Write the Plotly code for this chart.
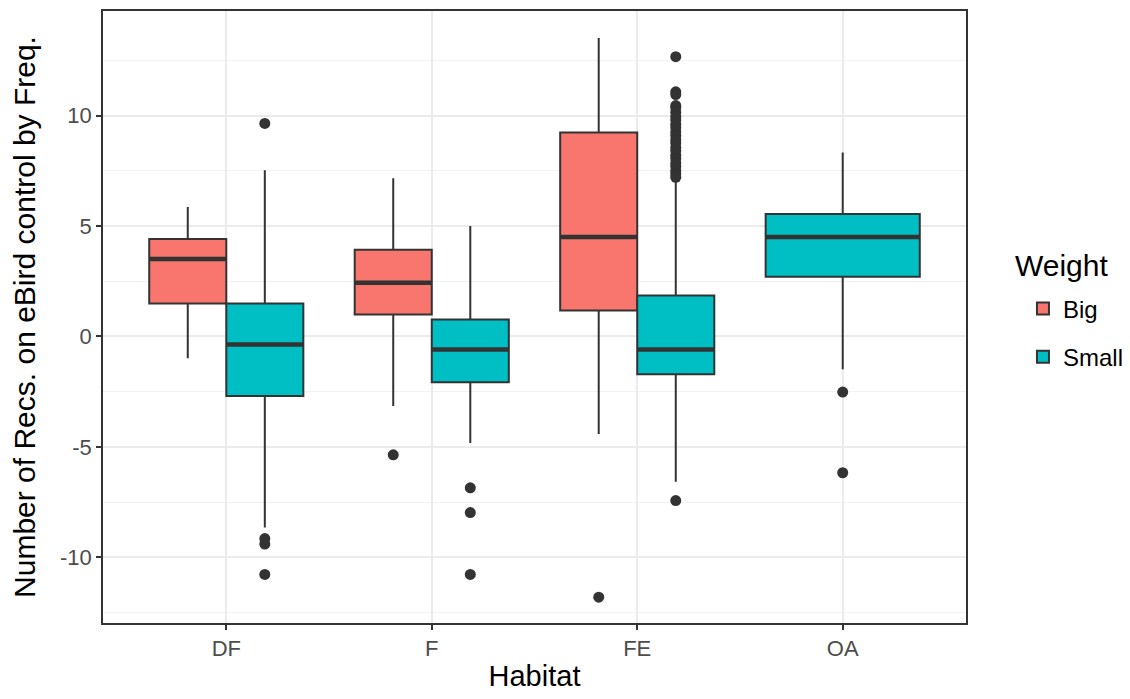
import plotly.graph_objects as go

# ---- data ----
habitats = ["DF", "F", "FE", "OA"]

big_habitats = ["DF", "F", "FE"]
big_lower = [-0.99, -3.15, -4.41]
big_q1 = [1.49, 0.99, 1.17]
big_median = [3.51, 2.43, 4.50]
big_q3 = [4.41, 3.92, 9.23]
big_upper = [5.86, 7.16, 13.51]
big_outliers = {"DF": [], "F": [-5.36], "FE": [-11.8]}

small_habitats = ["DF", "F", "FE", "OA"]
small_lower = [-8.65, -4.82, -6.58, -1.49]
small_q1 = [-2.70, -2.07, -1.71, 2.70]
small_median = [-0.36, -0.59, -0.59, 4.50]
small_q3 = [1.49, 0.77, 1.85, 5.54]
small_upper = [7.52, 5.00, 7.07, 8.33]
small_outliers = {
    "DF": [9.64, -9.15, -9.40, -10.77],
    "F": [-6.85, -7.97, -10.77],
    "FE": [-7.43, 12.66, 11.07, 10.95, 10.45, 10.35, 10.15, 9.95, 9.8, 9.6,
           9.45, 9.25, 9.1, 8.9, 8.75, 8.55, 8.4, 8.2, 8.05, 7.85, 7.7,
           7.5, 7.35, 7.2],
    "OA": [-2.52, -6.17],
}

legend_title = "Weight"
colors = {"Big": "#F8766D", "Small": "#00BFC4"}
dark = "#333333"

fig = go.Figure()

dodge = 0.1875
pair_width = 0.375


def pos(h, offset):
    return habitats.index(h) + 1 + offset


def n_groups(h):
    return (h in big_habitats) + (h in small_habitats)


def add_group(name, hs, lo, q1, med, q3, up, outl, offset_sign):
    xs, widths = [], []
    for h in hs:
        if n_groups(h) == 2:
            xs.append(pos(h, offset_sign * dodge)); widths.append(pair_width)
        else:
            xs.append(pos(h, 0)); widths.append(2 * pair_width)
    for w in sorted(set(widths)):
        idx = [i for i, ww in enumerate(widths) if ww == w]
        first = w == pair_width
        fig.add_trace(go.Box(
            x=[xs[i] for i in idx],
            lowerfence=[lo[i] for i in idx],
            q1=[q1[i] for i in idx],
            median=[med[i] for i in idx],
            q3=[q3[i] for i in idx],
            upperfence=[up[i] for i in idx],
            width=w,
            name=name,
            legendgroup=name,
            showlegend=first,
            fillcolor=colors[name],
            line=dict(color=dark, width=2),
            whiskerwidth=0,
            boxpoints=False,
            hoverinfo="skip",
        ))
        # thicker median line like ggplot
        mx, my = [], []
        for i in idx:
            mx += [xs[i] - w / 2, xs[i] + w / 2, None]
            my += [med[i], med[i], None]
        fig.add_trace(go.Scatter(
            x=mx, y=my, mode="lines", line=dict(color=dark, width=4.5),
            showlegend=False, hoverinfo="skip"))
    ox, oy = [], []
    for i, h in enumerate(hs):
        for v in outl.get(h, []):
            ox.append(xs[i]); oy.append(v)
    fig.add_trace(go.Scatter(
        x=ox, y=oy, mode="markers",
        marker=dict(color=dark, size=11, line=dict(width=0)),
        showlegend=False, hoverinfo="skip"))


add_group("Big", big_habitats, big_lower, big_q1, big_median, big_q3, big_upper,
          big_outliers, -1)
add_group("Small", small_habitats, small_lower, small_q1, small_median, small_q3,
          small_upper, small_outliers, +1)

fig.add_annotation(
    text=legend_title, xref="paper", yref="paper", x=1.0545, y=0.584,
    xanchor="left", yanchor="middle", showarrow=False,
    font=dict(size=30, color="black"),
)

fig.update_layout(
    width=1130, height=699,
    margin=dict(l=95, r=172, t=1, b=84),
    paper_bgcolor="white",
    plot_bgcolor="white",
    boxmode="overlay",
    font=dict(family="Liberation Sans, Arial, sans-serif", color="black"),
    legend=dict(
        x=1.066, xanchor="left", y=0.474, yanchor="middle",
        font=dict(size=24, color="black"),
        tracegroupgap=14,
        itemsizing="constant",
    ),
    xaxis=dict(
        range=[0.4, 4.6],
        tickmode="array",
        tickvals=[1, 2, 3, 4],
        ticktext=habitats,
        showgrid=True, gridcolor="#EBEBEB", gridwidth=1.5,
        zeroline=False,
        showline=True, linecolor=dark, linewidth=1.5, mirror=True,
        ticks="outside", ticklen=5, tickcolor=dark, tickwidth=1.5,
        tickfont=dict(size=22, color="#4D4D4D"),
        title=dict(text="Habitat", font=dict(size=29, color="black"), standoff=6),
    ),
    yaxis=dict(
        range=[-12.97, 14.73],
        tickmode="array",
        tickvals=[-10, -5, 0, 5, 10],
        ticktext=["-10", "-5", "0", "5", "10"],
        showgrid=True, gridcolor="#EBEBEB", gridwidth=1.5,
        minor=dict(tickvals=[-12.5, -7.5, -2.5, 2.5, 7.5, 12.5], showgrid=True,
                   gridcolor="#F2F2F2", gridwidth=0.8, ticks=""),
        zeroline=False,
        showline=True, linecolor=dark, linewidth=1.5, mirror=True,
        ticks="outside", ticklen=5, tickcolor=dark, tickwidth=1.5,
        tickfont=dict(size=22, color="#4D4D4D"),
        title=dict(text="Number of Recs. on eBird control by Freq.",
                   font=dict(size=30, color="black"), standoff=18),
    ),
)

fig.write_html("out.html")
